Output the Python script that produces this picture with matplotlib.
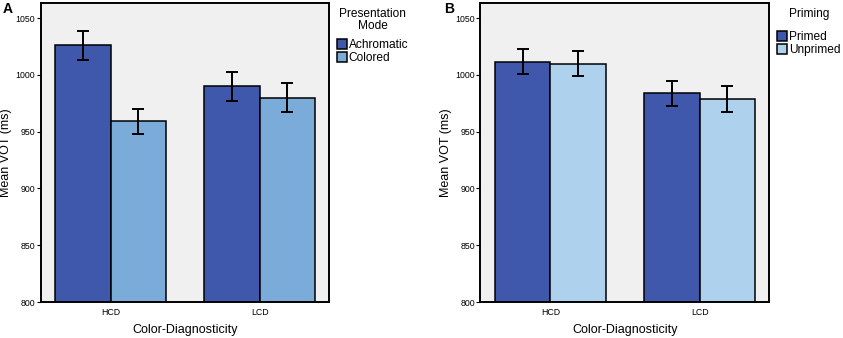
import matplotlib
matplotlib.use("Agg")
import matplotlib.pyplot as plt
import numpy as np
from matplotlib.patches import Patch

plt.rcParams['font.family'] = ['Liberation Sans', 'DejaVu Sans']

categories = ["HCD", "LCD"]

# Panel A
a_series = ["Achromatic", "Colored"]
a_means = [[1026, 990], [959, 980]]
a_errs = [[13, 13], [11, 13]]
a_colors = ["#3F58AC", "#7BABD8"]
a_title = "Presentation\nMode"

# Panel B
b_series = ["Primed", "Unprimed"]
b_means = [[1011.5, 984], [1010, 979]]
b_errs = [[11, 11], [11, 11.5]]
b_colors = ["#3F58AC", "#AED1EE"]
b_title = "Priming"

fig = plt.figure(figsize=(8.43, 3.38), dpi=100)
fig.patch.set_facecolor("white")

def panel(rect, series, means, errs, colors, ltitle, letter, lx, sep):
    ax = fig.add_axes(rect)
    ax.set_facecolor("#F0F0F0")
    x = np.arange(len(categories))
    w = 0.372
    for i, (s, m, e, c) in enumerate(zip(series, means, errs, colors)):
        off = (i - 0.5) * w
        ax.bar(x + off, np.array(m) - 800, bottom=800, width=w, color=c,
               edgecolor="black", linewidth=1.1, label=s, zorder=2)
        ax.errorbar(x + off, m, yerr=e, fmt="none", ecolor="black",
                    elinewidth=1.4, capsize=4.5, capthick=1.4, zorder=3)
    ax.set_xlim(-0.47, 1.465)
    ax.set_ylim(800, 1063)
    ax.set_yticks([800, 850, 900, 950, 1000, 1050])
    ax.set_xticks(x)
    ax.set_xticklabels(categories)
    ax.tick_params(axis="y", labelsize=6.3, length=3, width=0.8, pad=1)
    ax.tick_params(axis="x", labelsize=6.3, length=0, pad=4)
    for sp in ax.spines.values():
        sp.set_linewidth(1.4)
        sp.set_zorder(4)
    ax.set_ylabel("Mean VOT (ms)", fontsize=9)
    ax.yaxis.set_label_coords(-0.098, 0.5)
    ax.set_xlabel("Color-Diagnosticity", fontsize=9, labelpad=5)
    handles = [Patch(facecolor=c, edgecolor="black", linewidth=1.1) for c in colors]
    leg = ax.legend(handles, series, title=ltitle, loc="upper left",
                    bbox_to_anchor=(1.0, 1.012), frameon=False, fontsize=8.6,
                    title_fontsize=8.6, handlelength=0.8, handleheight=0.85,
                    handletextpad=0.15, labelspacing=0.08, borderaxespad=0.4,
                    borderpad=0.3)
    leg.set_alignment("center")
    leg.get_title().set_multialignment("center")
    leg.get_title().set_linespacing(1.0)
    leg._legend_box.sep = sep
    fig.text(lx, 0.995, letter, fontsize=10, fontweight="bold", va="top", ha="left")
    return ax

panel([0.0483, 0.1065, 0.342, 0.8835], a_series, a_means, a_errs, a_colors,
      a_title, "A", 0.003, 5)
panel([0.5698, 0.1065, 0.3425, 0.8835], b_series, b_means, b_errs, b_colors,
      b_title, "B", 0.527, 8)

fig.savefig("out.png", dpi=100)
